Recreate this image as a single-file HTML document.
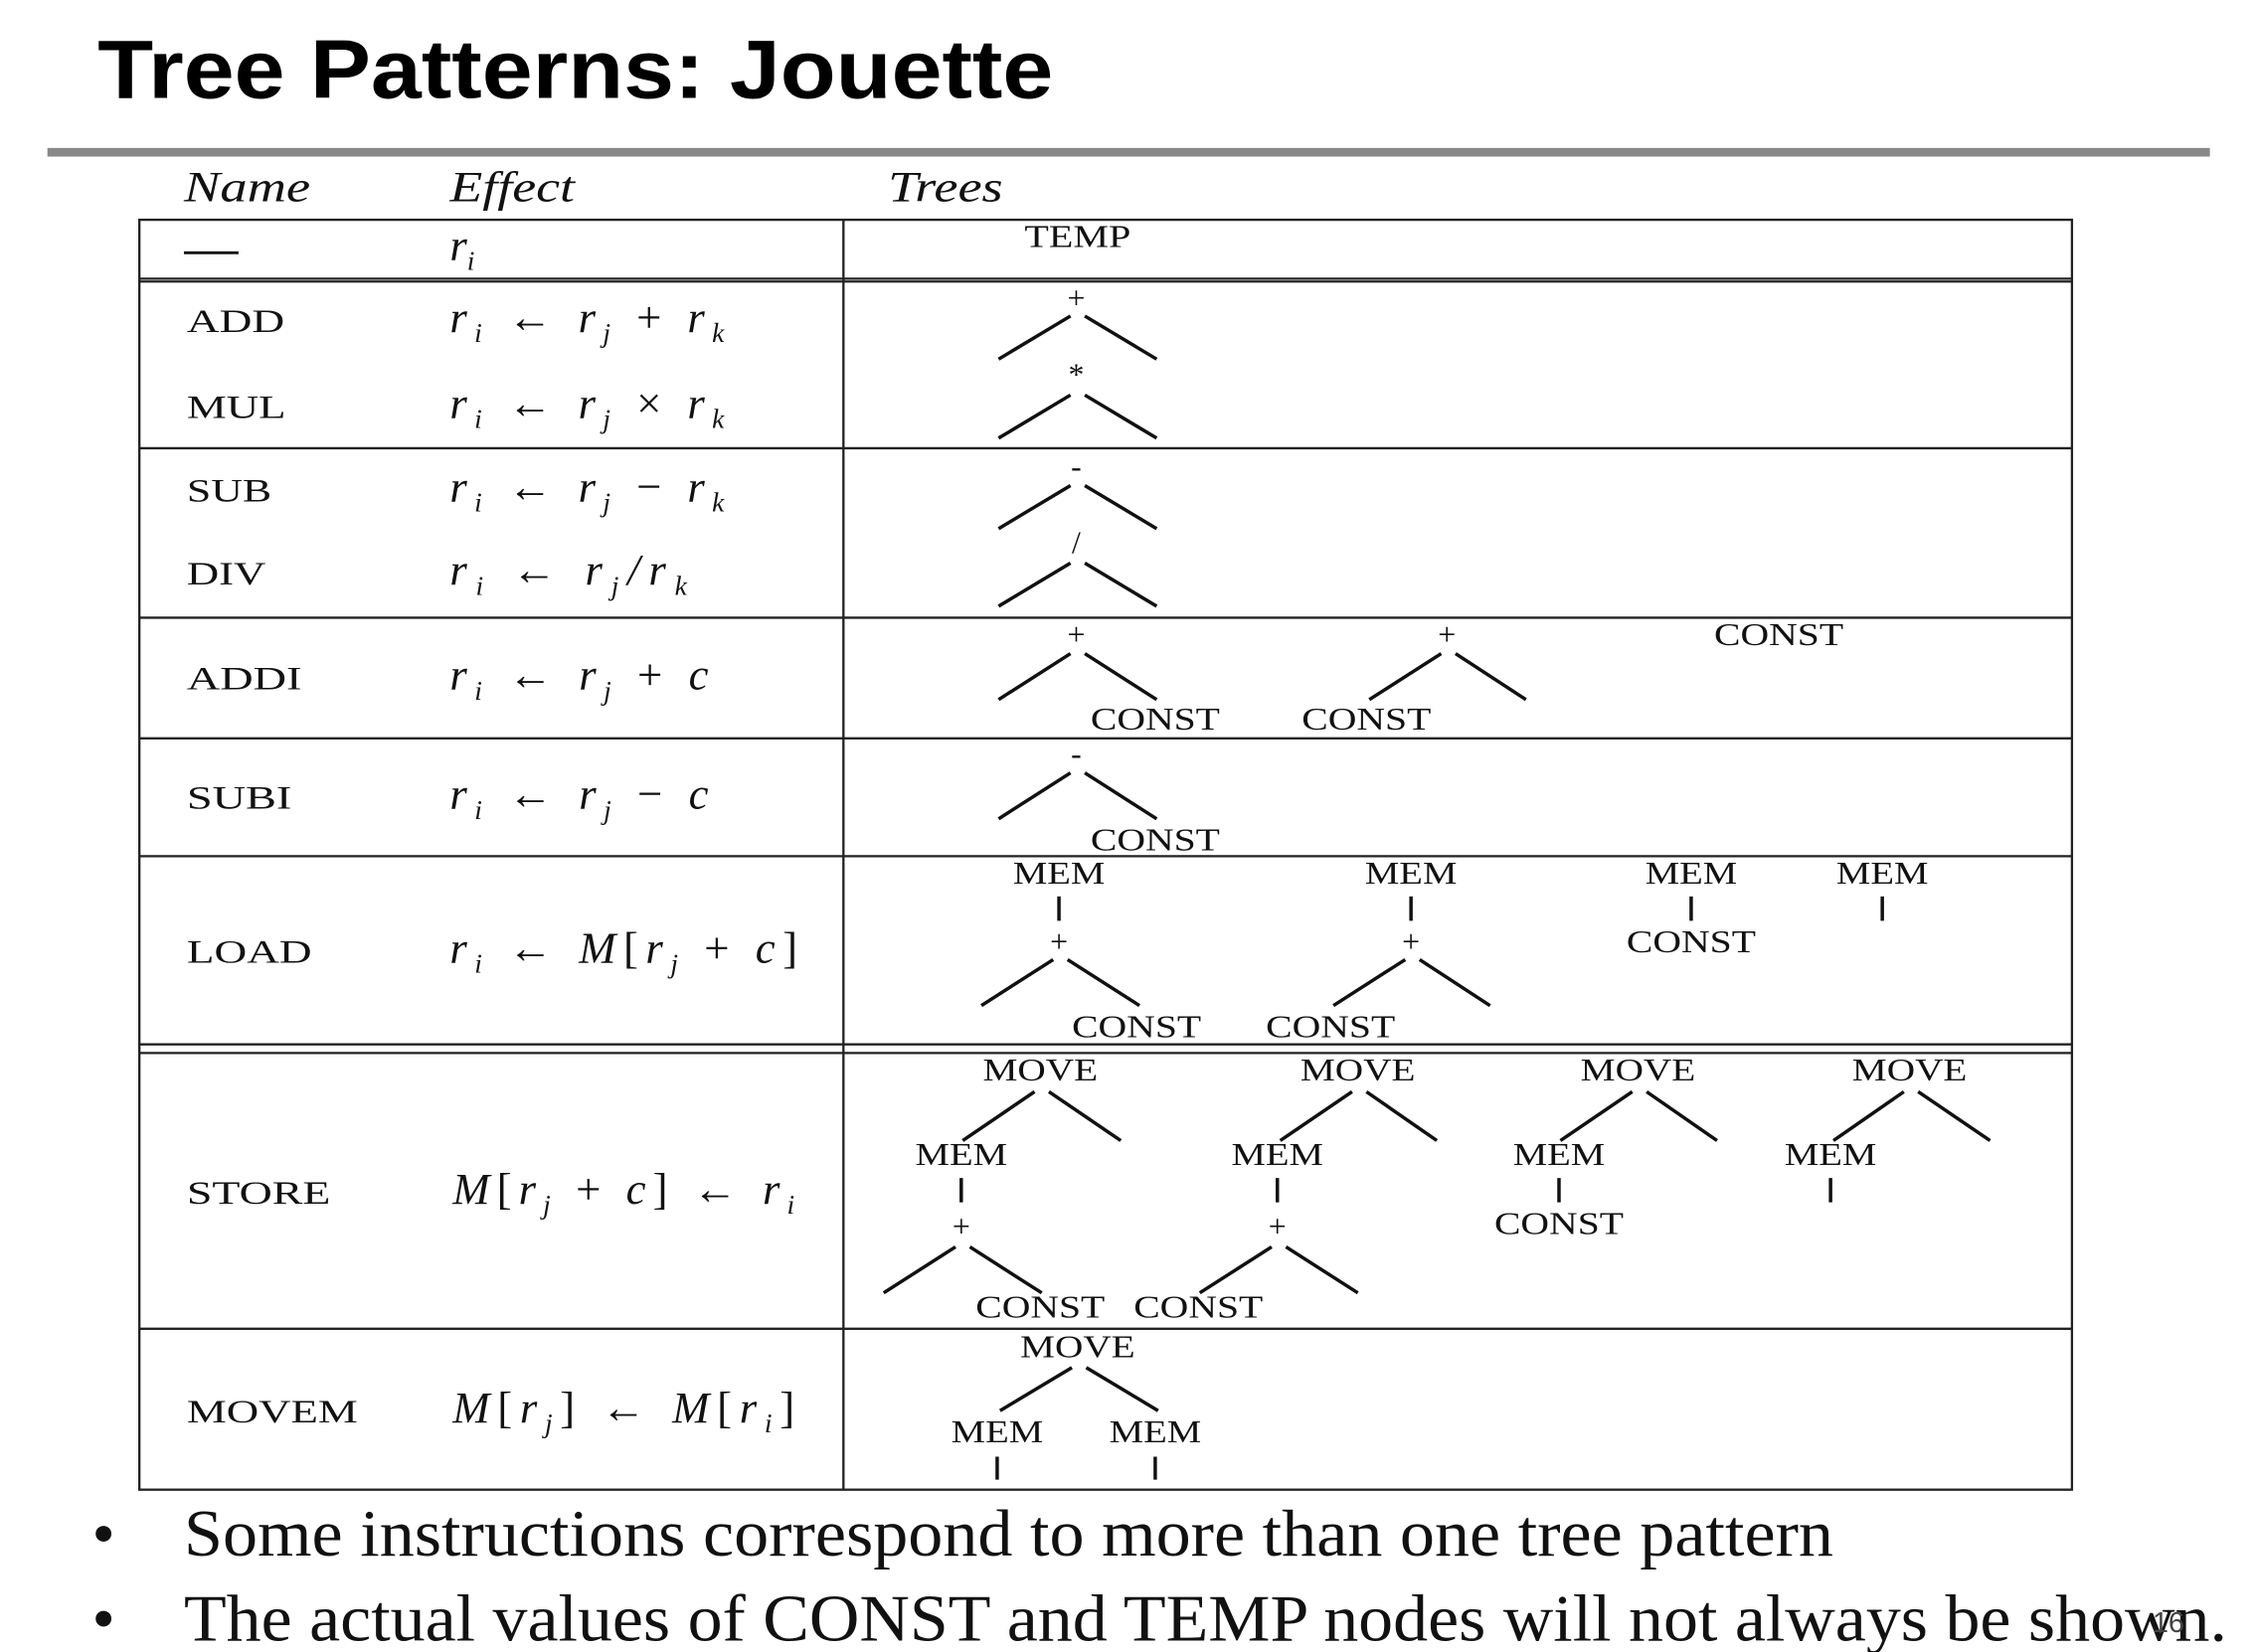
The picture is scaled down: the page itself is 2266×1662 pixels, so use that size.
<!DOCTYPE html>
<html><head><meta charset="utf-8"><style>
html,body{margin:0;padding:0;background:#fff;}
svg{display:block;}
.t{font-family:"Liberation Serif",serif;fill:#111;}
.n{font-family:"Liberation Serif",serif;font-size:23px;fill:#111;}
.m{font-family:"Liberation Serif",serif;font-size:31px;font-style:italic;fill:#111;}
.s{font-size:19px;}
.u{font-style:normal;}
.o{font-family:"Liberation Serif",serif;font-size:22px;fill:#111;text-anchor:middle;}
</style></head><body>
<svg width="2266" height="1662" viewBox="0 0 1568 1150" preserveAspectRatio="none" xmlns="http://www.w3.org/2000/svg">
<text x="68" y="68" font-family="Liberation Sans, sans-serif" font-weight="bold" font-size="58" textLength="665" lengthAdjust="spacingAndGlyphs" fill="#000">Tree Patterns:  Jouette</text>
<rect x="33" y="103" width="1505" height="6" fill="#888"/>
<g class="t" font-style="italic" font-size="30">
<text x="128" y="140" textLength="88" lengthAdjust="spacingAndGlyphs">Name</text>
<text x="313" y="140" textLength="87" lengthAdjust="spacingAndGlyphs">Effect</text>
<text x="618" y="140" textLength="80" lengthAdjust="spacingAndGlyphs">Trees</text>
</g>
<g stroke="#222" stroke-width="1.6" fill="none">
<rect x="97" y="153" width="1345" height="884"/>
<line x1="587" y1="153" x2="587" y2="1037"/>
<line x1="97" y1="194" x2="1442" y2="194"/><line x1="97" y1="196" x2="1442" y2="196"/>
<line x1="97" y1="312" x2="1442" y2="312"/>
<line x1="97" y1="430" x2="1442" y2="430"/>
<line x1="97" y1="514" x2="1442" y2="514"/>
<line x1="97" y1="596" x2="1442" y2="596"/>
<line x1="97" y1="727" x2="1442" y2="727"/><line x1="97" y1="733" x2="1442" y2="733"/>
<line x1="97" y1="925" x2="1442" y2="925"/>
</g>
<g class="n">
<line x1="128" y1="176" x2="166" y2="176" stroke="#111" stroke-width="2"/>
<text x="130" y="231" textLength="68" lengthAdjust="spacingAndGlyphs">ADD</text>
<text x="130" y="291" textLength="69" lengthAdjust="spacingAndGlyphs">MUL</text>
<text x="130" y="349" textLength="59" lengthAdjust="spacingAndGlyphs">SUB</text>
<text x="130" y="407" textLength="55" lengthAdjust="spacingAndGlyphs">DIV</text>
<text x="130" y="480" textLength="80" lengthAdjust="spacingAndGlyphs">ADDI</text>
<text x="130" y="563" textLength="73" lengthAdjust="spacingAndGlyphs">SUBI</text>
<text x="130" y="670" textLength="87" lengthAdjust="spacingAndGlyphs">LOAD</text>
<text x="130" y="838" textLength="100" lengthAdjust="spacingAndGlyphs">STORE</text>
<text x="130" y="990" textLength="119" lengthAdjust="spacingAndGlyphs">MOVEM</text>
</g>
<g class="m">
<text x="313" y="181">r<tspan class="s" dy="7">i</tspan></text>
<text x="313" y="231" textLength="191" lengthAdjust="spacing">r<tspan class="s" dy="7">i</tspan><tspan class="u" dy="-7"> ← </tspan>r<tspan class="s" dy="7">j</tspan><tspan class="u" dy="-7"> + </tspan>r<tspan class="s" dy="7">k</tspan></text>
<text x="313" y="291" textLength="191" lengthAdjust="spacing">r<tspan class="s" dy="7">i</tspan><tspan class="u" dy="-7"> ← </tspan>r<tspan class="s" dy="7">j</tspan><tspan class="u" dy="-7"> × </tspan>r<tspan class="s" dy="7">k</tspan></text>
<text x="313" y="349" textLength="191" lengthAdjust="spacing">r<tspan class="s" dy="7">i</tspan><tspan class="u" dy="-7"> ← </tspan>r<tspan class="s" dy="7">j</tspan><tspan class="u" dy="-7"> − </tspan>r<tspan class="s" dy="7">k</tspan></text>
<text x="313" y="407" textLength="165" lengthAdjust="spacing">r<tspan class="s" dy="7">i</tspan><tspan class="u" dy="-7"> ← </tspan>r<tspan class="s" dy="7">j</tspan><tspan dy="-7">/</tspan>r<tspan class="s" dy="7">k</tspan></text>
<text x="313" y="480" textLength="180" lengthAdjust="spacing">r<tspan class="s" dy="7">i</tspan><tspan class="u" dy="-7"> ← </tspan>r<tspan class="s" dy="7">j</tspan><tspan class="u" dy="-7"> + </tspan>c</text>
<text x="313" y="563" textLength="180" lengthAdjust="spacing">r<tspan class="s" dy="7">i</tspan><tspan class="u" dy="-7"> ← </tspan>r<tspan class="s" dy="7">j</tspan><tspan class="u" dy="-7"> − </tspan>c</text>
<text x="313" y="670" textLength="242" lengthAdjust="spacing">r<tspan class="s" dy="7">i</tspan><tspan class="u" dy="-7"> ← </tspan>M<tspan class="u">[</tspan>r<tspan class="s" dy="7">j</tspan><tspan class="u" dy="-7"> + </tspan>c<tspan class="u">]</tspan></text>
<text x="315" y="838" textLength="238" lengthAdjust="spacing">M<tspan class="u">[</tspan>r<tspan class="s" dy="7">j</tspan><tspan class="u" dy="-7"> + </tspan>c<tspan class="u">] ← </tspan>r<tspan class="s" dy="7">i</tspan></text>
<text x="315" y="990" textLength="238" lengthAdjust="spacing">M<tspan class="u">[</tspan>r<tspan class="s" dy="7">j</tspan><tspan class="u" dy="-7">] ← </tspan>M<tspan class="u">[</tspan>r<tspan class="s" dy="7">i</tspan><tspan class="u" dy="-7">]</tspan></text>
</g>
<g class="o">
<text x="750" y="172" textLength="74" lengthAdjust="spacingAndGlyphs">TEMP</text>
<text x="749" y="215">+</text>
<text x="749" y="268">*</text>
<text x="749" y="332">-</text>
<text x="749" y="385">/</text>
<text x="749" y="449">+</text>
<text x="804" y="508" textLength="90" lengthAdjust="spacingAndGlyphs">CONST</text>
<text x="1007" y="449">+</text>
<text x="951" y="508" textLength="90" lengthAdjust="spacingAndGlyphs">CONST</text>
<text x="1238" y="449" textLength="90" lengthAdjust="spacingAndGlyphs">CONST</text>
<text x="749" y="532">-</text>
<text x="804" y="592" textLength="90" lengthAdjust="spacingAndGlyphs">CONST</text>
<text x="737" y="615" textLength="64" lengthAdjust="spacingAndGlyphs">MEM</text>
<text x="737" y="663">+</text>
<text x="791" y="722" textLength="90" lengthAdjust="spacingAndGlyphs">CONST</text>
<text x="982" y="615" textLength="64" lengthAdjust="spacingAndGlyphs">MEM</text>
<text x="982" y="663">+</text>
<text x="926" y="722" textLength="90" lengthAdjust="spacingAndGlyphs">CONST</text>
<text x="1177" y="615" textLength="64" lengthAdjust="spacingAndGlyphs">MEM</text>
<text x="1177" y="663" textLength="90" lengthAdjust="spacingAndGlyphs">CONST</text>
<text x="1310" y="615" textLength="64" lengthAdjust="spacingAndGlyphs">MEM</text>
<text x="724" y="752" textLength="80" lengthAdjust="spacingAndGlyphs">MOVE</text>
<text x="669" y="811" textLength="64" lengthAdjust="spacingAndGlyphs">MEM</text>
<text x="669" y="861">+</text>
<text x="724" y="917" textLength="90" lengthAdjust="spacingAndGlyphs">CONST</text>
<text x="945" y="752" textLength="80" lengthAdjust="spacingAndGlyphs">MOVE</text>
<text x="889" y="811" textLength="64" lengthAdjust="spacingAndGlyphs">MEM</text>
<text x="889" y="861">+</text>
<text x="834" y="917" textLength="90" lengthAdjust="spacingAndGlyphs">CONST</text>
<text x="1140" y="752" textLength="80" lengthAdjust="spacingAndGlyphs">MOVE</text>
<text x="1085" y="811" textLength="64" lengthAdjust="spacingAndGlyphs">MEM</text>
<text x="1085" y="859" textLength="90" lengthAdjust="spacingAndGlyphs">CONST</text>
<text x="1329" y="752" textLength="80" lengthAdjust="spacingAndGlyphs">MOVE</text>
<text x="1274" y="811" textLength="64" lengthAdjust="spacingAndGlyphs">MEM</text>
<text x="750" y="945" textLength="80" lengthAdjust="spacingAndGlyphs">MOVE</text>
<text x="694" y="1004" textLength="64" lengthAdjust="spacingAndGlyphs">MEM</text>
<text x="804" y="1004" textLength="64" lengthAdjust="spacingAndGlyphs">MEM</text>
</g>
<g stroke="#111" stroke-width="2.4" fill="none">
<path d="M745 220L695 250M755 220L805 250"/>
<path d="M745 275L695 305M755 275L805 305"/>
<path d="M745 338L695 368M755 338L805 368"/>
<path d="M745 392L695 422M755 392L805 422"/>
<path d="M745 455L695 487M755 455L805 487"/>
<path d="M1003 455L953 487M1013 455L1062 487"/>
<path d="M745 538L695 570M755 538L805 570"/>
<path d="M737 624V641M733 668L683 700M743 668L793 700"/>
<path d="M982 624V641M978 668L928 700M988 668L1037 700"/>
<path d="M1177 624V641M1310 624V641"/>
<path d="M720 760L670 794M730 760L780 794M669 820V837M665 868L615 900M675 868L725 900"/>
<path d="M941 760L891 794M951 760L1000 794M889 820V837M885 868L835 900M895 868L945 900"/>
<path d="M1136 760L1086 794M1146 760L1195 794M1085 820V837"/>
<path d="M1325 760L1276 794M1335 760L1385 794M1274 820V837"/>
<path d="M746 952L696 982M756 952L806 982M694 1014V1030M804 1014V1030"/>
</g>
<g class="t" font-size="46">
<text x="64" y="1083">•</text>
<text x="128" y="1083" textLength="1148" lengthAdjust="spacingAndGlyphs">Some instructions correspond to more than one tree pattern</text>
<text x="64" y="1142">•</text>
<text x="128" y="1142" textLength="1422" lengthAdjust="spacingAndGlyphs">The actual values of CONST and TEMP nodes will not always be shown.</text>
</g>
<text x="1498" y="1136" font-family="Liberation Sans, sans-serif" font-size="20" fill="#444">16</text>
</svg>
</body></html>
